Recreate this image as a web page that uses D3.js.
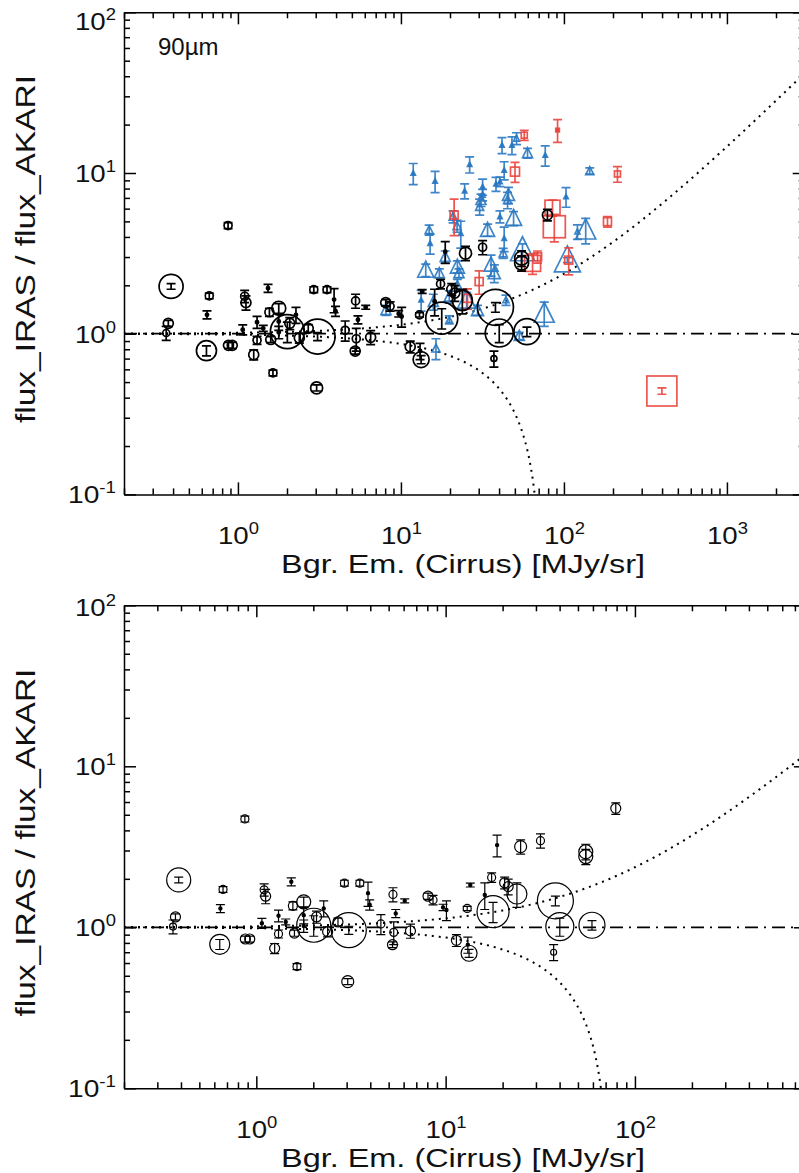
<!DOCTYPE html>
<html>
<head>
<meta charset="utf-8">
<script src="https://cdn.jsdelivr.net/npm/d3@7"></script>
<style>
  body { margin: 0; background: #fff; }
  svg { display: block; font-family: "Liberation Sans", Arial, Helvetica, sans-serif; }
</style>
</head>
<body>
<svg id="chart" width="799" height="1173"></svg>
<script>
// ---- data: [cirrus, ratio, ratio error, symbol scale] ----
const blackPts = [
  [0.389, 1.97, 0.08, 12], [0.374, 1.16, 0.05, 5], [0.363, 1.01, 0.10, 3.5],
  [0.667, 1.72, 0.07, 4], [0.646, 1.31, 0.075, 1.5], [0.641, 0.784, 0.056, 10],
  [0.875, 0.846, 0.036, 5], [0.923, 0.846, 0.036, 5], [0.87, 4.71, 0.2, 4],
  [1.10, 1.71, 0.15, 4], [1.12, 1.56, 0.16, 5], [1.07, 1.06, 0.076, 1.5],
  [1.25, 0.74, 0.053, 5], [1.31, 0.91, 0.052, 4], [1.31, 1.18, 0.10, 1.5],
  [1.43, 1.08, 0.046, 1.5], [1.59, 0.92, 0.04, 5], [1.64, 0.57, 0.024, 4],
  [1.53, 1.92, 0.11, 1.5], [1.56, 1.36, 0.078, 4.5], [1.78, 1.44, 0.10, 7],
  [1.78, 1.19, 0.14, 1.5], [1.78, 1.02, 0.09, 1.5], [2.01, 1.03, 0.15, 17],
  [2.08, 1.16, 0.10, 5], [2.27, 1.31, 0.15, 1.5], [2.38, 0.94, 0.067, 5],
  [2.70, 1.08, 0.06, 5], [3.08, 0.96, 0.055, 17.5], [2.92, 1.88, 0.08, 4],
  [3.52, 1.88, 0.08, 4], [3.89, 1.63, 0.28, 1.5], [3.97, 1.38, 0.10, 1.5],
  [3.04, 0.46, 0.02, 6], [4.55, 1.05, 0.15, 4], [5.27, 1.60, 0.16, 4],
  [5.45, 1.22, 0.07, 1.5], [5.32, 0.93, 0.15, 4], [5.24, 0.78, 0.033, 5],
  [6.08, 1.46, 0.04, 1.5], [6.52, 0.95, 0.095, 5], [8.07, 1.56, 0.07, 5],
  [8.58, 1.48, 0.10, 4], [9.69, 1.33, 0.06, 1.5], [10.1, 1.28, 0.18, 1.5],
  [11.4, 0.83, 0.07, 5], [13.3, 0.69, 0.04, 8], [13.1, 0.78, 0.09, 1.5],
  [13.0, 1.31, 0.04, 4], [13.5, 1.83, 0.05, 1.5], [17.5, 2.04, 0.14, 4],
  [16.1, 1.59, 0.30, 1.5], [17.8, 1.25, 0.18, 16], [20.5, 1.89, 0.16, 5],
  [21.4, 1.79, 0.20, 5], [23.8, 1.61, 0.28, 10], [18.7, 3.24, 0.50, 1.5],
  [24.9, 3.17, 0.32, 6], [31.7, 3.45, 0.35, 4], [38.0, 1.46, 0.10, 18],
  [40.1, 1.01, 0.13, 14], [37.2, 0.70, 0.08, 3], [59.3, 1.03, 0.07, 13],
  [55.0, 2.95, 0.33, 7], [55.0, 2.75, 0.30, 7], [79.2, 5.48, 0.45, 5]
];

const bluePts = [
  [11.9, 9.96, 1.5, 2], [16.2, 8.9, 1.35, 2], [26.4, 11.3, 1.3, 2],
  [24.6, 7.73, 0.83, 2], [31.7, 8.22, 0.95, 2], [31.7, 7.3, 0.6, 2.5],
  [31.0, 6.79, 0.6, 5], [30.4, 6.17, 0.7, 4], [38.3, 8.54, 0.86, 2],
  [40.5, 8.83, 0.6, 2], [43.0, 10.4, 1.35, 2], [41.7, 14.9, 1.7, 2],
  [48.0, 14.9, 1.9, 2], [51.2, 16.4, 1.4, 3], [59.8, 13.3, 0.95, 5],
  [76.8, 12.9, 1.85, 2], [45.7, 7.3, 0.85, 6], [45.1, 6.79, 0.8, 4],
  [49.1, 5.23, 0.52, 8], [40.5, 5.35, 0.46, 2], [14.9, 4.42, 0.32, 4],
  [15.1, 3.65, 0.52, 2], [20.9, 5.35, 0.46, 4], [23.3, 4.21, 0.8, 2],
  [18.7, 3.01, 0.26, 5], [34.0, 4.42, 0.38, 7], [43.0, 3.92, 0.68, 2],
  [42.4, 3.17, 0.23, 4], [35.7, 2.68, 0.4, 7], [55.7, 3.32, 0.3, 12],
  [103, 7.12, 1.0, 2], [121, 4.31, 0.45, 2.5], [136, 4.42, 0.8, 10],
  [144, 10.3, 0.45, 4], [105, 2.87, 0.1, 13], [14.2, 2.49, 0.22, 8],
  [17.2, 2.38, 0.15, 5], [22.2, 2.61, 0.23, 7], [22.7, 2.38, 0.15, 5],
  [22.1, 4.68, 0.4, 4], [37.4, 2.38, 0.3, 6], [13.3, 1.62, 0.24, 2],
  [15.8, 1.58, 0.18, 5], [16.4, 0.81, 0.12, 4], [19.8, 1.22, 0.07, 3],
  [25.3, 1.62, 0.19, 9], [29.5, 1.40, 0.1, 6], [44.1, 1.62, 0.12, 3],
  [75.7, 1.34, 0.23, 10], [53.2, 0.97, 0.05, 5], [8.09, 1.40, 0.1, 5],
  [22.2, 2.01, 0.17, 4], [19.8, 1.70, 0.15, 5]
];

const redPts = [
  [57.1, 17.2, 1.25, 3], [91.4, 18.5, 3.0, 2], [50.1, 10.2, 1.45, 4.5],
  [213, 9.86, 1.1, 3], [21.2, 5.48, 1.4, 4], [85.1, 6.08, 0.7, 7.5],
  [87.3, 4.63, 0.9, 11], [185, 4.98, 0.37, 4], [107, 2.87, 0.55, 4],
  [68.9, 3.01, 0.26, 4], [64.2, 2.74, 0.4, 8], [30.2, 2.11, 0.35, 4],
  [25.6, 1.66, 0.24, 4], [399, 0.44, 0.02, 15]
];

const xMajorTop = [1, 10, 100, 1000];
const xMajorBottom = [1, 10, 100];
const yMajor = [0.1, 1, 10, 100];
const cirrusScale = 73.5;   // model lines: ratio = 1 +/- cirrus / cirrusScale

const svg = d3.select('#chart');
const BLUE = '#2a79c2', RED = '#e9453d';

const panels = [
  {
    id: 'top',
    x: d3.scaleLog().domain([0.2, 3000]).range([124, 804.7]),
    y: d3.scaleLog().domain([0.1, 100]).range([494.4, 12.3]),
    xMajor: xMajorTop, sw: 1.7, band: '90µm', topLabelShift: 18,
    series: [['tri', bluePts, BLUE], ['sq', redPts, RED], ['circ', blackPts, '#000']]
  },
  {
    id: 'bottom',
    x: d3.scaleLog().domain([0.2, 800]).range([124, 805.9]),
    y: d3.scaleLog().domain([0.1, 100]).range([1088.3, 605.3]),
    xMajor: xMajorBottom, sw: 1.2, band: null, topLabelShift: 11,
    series: [['circ', blackPts, '#000']]
  }
];

function supLabel(sel, exp) {
  sel.attr('font-size', 24).attr('fill', '#111')
    .attr('textLength', exp.length > 1 ? 48 : 41).attr('lengthAdjust', 'spacingAndGlyphs');
  sel.append('tspan').text('10');
  sel.append('tspan').attr('dy', -10).attr('font-size', 16).text(exp);
}

panels.forEach(p => {
  const [x0, x1] = p.x.range(), [y0, y1] = p.y.range();
  const g = svg.append('g').attr('id', p.id);

  g.append('clipPath').attr('id', 'clip-' + p.id)
    .append('rect').attr('x', x0).attr('y', y1).attr('width', x1 - x0).attr('height', y0 - y1);
  const plot = g.append('g').attr('clip-path', `url(#clip-${p.id})`);

  // reference line at 1 and the cirrus model curves
  plot.append('line')
    .attr('x1', x0).attr('x2', x1).attr('y1', p.y(1)).attr('y2', p.y(1))
    .attr('stroke', '#000').attr('stroke-width', 1.8).attr('stroke-dasharray', '13,6,2,6');

  const lx0 = Math.log10(p.x.domain()[0]), lx1 = Math.log10(p.x.domain()[1]);
  const xs = d3.range(0, 401).map(i => Math.pow(10, lx0 + i * (lx1 - lx0) / 400));
  const line = d3.line().x(d => p.x(d[0])).y(d => p.y(d[1]));
  plot.append('path')
    .attr('d', line(xs.map(v => [v, 1 + v / cirrusScale])))
    .attr('fill', 'none').attr('stroke', '#000').attr('stroke-width', 2).attr('stroke-dasharray', '2,5');
  plot.append('path')
    .attr('d', line(xs.filter(v => v < cirrusScale * 0.97).map(v => [v, 1 - v / cirrusScale])))
    .attr('fill', 'none').attr('stroke', '#000').attr('stroke-width', 2).attr('stroke-dasharray', '2,5');

  // data points with error bars
  p.series.forEach(([shape, pts, color]) => {
    const sg = plot.append('g').attr('stroke', color).attr('fill', 'none')
      .attr('stroke-width', p.sw).attr('stroke-opacity', color === '#000' ? 1 : 0.9);
    sg.selectAll('g').data(pts).join('g').each(function (d) {
      const [vx, vy, e, s] = d;
      const el = d3.select(this);
      const cx = p.x(vx), cy = p.y(vy);
      const lo = p.y(Math.max(vy - e, 0.011)), hi = p.y(vy + e);
      const cw = 4.5;
      el.append('path')
        .attr('d', `M${cx},${lo}V${hi}M${cx - cw},${lo}H${cx + cw}M${cx - cw},${hi}H${cx + cw}`);
      const dot = s <= 2;
      if (shape === 'circ') {
        el.append('circle').attr('cx', cx).attr('cy', cy).attr('r', dot ? 1.6 : s)
          .attr('fill', dot ? color : 'none');
      } else if (shape === 'tri') {
        const r = dot ? 2.2 : s;
        el.append('path')
          .attr('d', `M${cx},${cy - 1.1 * r}L${cx - r},${cy + 0.9 * r}L${cx + r},${cy + 0.9 * r}Z`)
          .attr('fill', dot ? color : 'none');
      } else {
        const r = dot ? 1.8 : s;
        el.append('rect').attr('x', cx - r).attr('y', cy - r).attr('width', 2 * r).attr('height', 2 * r)
          .attr('fill', dot ? color : 'none');
      }
    });
  });

  // axes on all four sides, ticks pointing inward
  const xMinor = p.x.ticks().filter(v => !p.xMajor.includes(v));
  const yMinor = p.y.ticks().filter(v => !yMajor.includes(v));
  const axes = [
    [d3.axisBottom(p.x), `translate(0,${y0})`, p.xMajor, xMinor],
    [d3.axisTop(p.x), `translate(0,${y1})`, p.xMajor, xMinor],
    [d3.axisLeft(p.y), `translate(${x0},0)`, yMajor, yMinor],
    [d3.axisRight(p.y), `translate(${x1},0)`, yMajor, yMinor]
  ];
  axes.forEach(([ax, tr, maj, min]) => {
    g.append('g').attr('transform', tr)
      .call(ax.tickValues(maj).tickSizeInner(-12).tickSizeOuter(0).tickFormat(''));
    g.append('g').attr('transform', tr)
      .call(ax.tickValues(min).tickSizeInner(-6).tickSizeOuter(0).tickFormat(''))
      .select('.domain').remove();
  });
  g.selectAll('.domain, .tick line').attr('stroke', '#000').attr('stroke-width', 1.5);

  // tick labels
  p.xMajor.forEach(v => {
    g.append('text').attr('x', p.x(v) - 20).attr('y', y0 + 50)
      .call(supLabel, String(Math.round(Math.log10(v))));
  });
  yMajor.forEach((v, i) => {
    const exp = String(Math.round(Math.log10(v)));
    const ty = p.y(v) + (i === yMajor.length - 1 ? p.topLabelShift : 9);
    g.append('text').attr('x', 116 - (exp.length > 1 ? 48 : 41)).attr('y', ty)
      .call(supLabel, exp);
  });

  // axis titles
  g.append('text').attr('x', 463).attr('y', y0 + 79)
    .attr('text-anchor', 'middle').attr('font-size', 26).attr('fill', '#111')
    .attr('textLength', 364).attr('lengthAdjust', 'spacingAndGlyphs')
    .text('Bgr. Em. (Cirrus) [MJy/sr]');
  const yc = (p.y(1) - 333.7) + 249;
  g.append('text').attr('transform', `translate(35,${yc}) rotate(-90)`)
    .attr('text-anchor', 'middle').attr('font-size', 28).attr('fill', '#111')
    .attr('textLength', 348).attr('lengthAdjust', 'spacingAndGlyphs')
    .text('flux_IRAS / flux_AKARI');

  if (p.band) {
    g.append('text').attr('x', 158).attr('y', 55).attr('font-size', 24).attr('fill', '#111').text(p.band);
  }
});
</script>
</body>
</html>
